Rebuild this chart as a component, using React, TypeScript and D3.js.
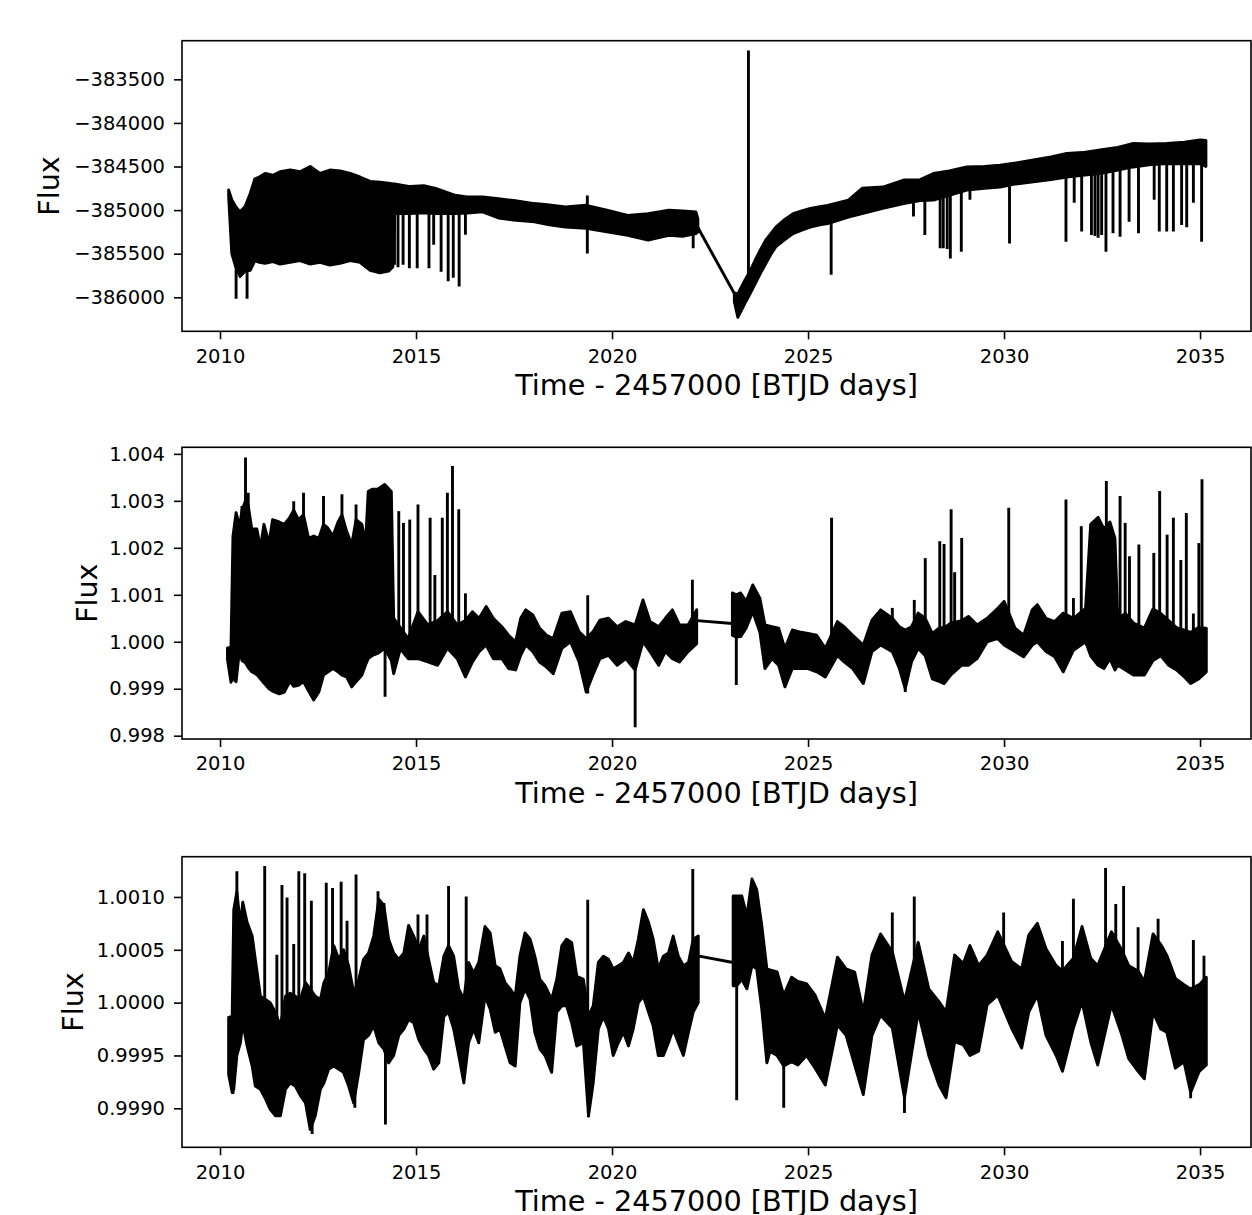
import React, { useEffect, useRef } from "react";
import * as d3 from "d3";

// [time, upper edge, lower edge] of the dense band
type Row = [number, number, number];
// [time, tip value] of an isolated spike
type Spike = [number, number];
// [t0, v0, t1, v1] straight segment across the data gap
type Link = [number, number, number, number];

const yearTicks = [2010, 2015, 2020, 2025, 2030, 2035];
const timeDomain: [number, number] = [2009.03, 2036.3];

// ---------- panel 1 : raw flux ----------
const p1Domain: [number, number] = [-386390, -383057];
const p1Ticks = [-386000, -385500, -385000, -384500, -384000, -383500];

const p1BandA: Row[] = [
  [2010.22, -384770, -384850], [2010.3, -384880, -385500], [2010.4, -384960, -385650],
  [2010.51, -385020, -385760], [2010.64, -384960, -385700], [2010.77, -384810, -385690],
  [2010.89, -384640, -385580], [2011.0, -384620, -385600], [2011.15, -384580, -385610],
  [2011.35, -384600, -385590], [2011.53, -384560, -385620], [2011.79, -384540, -385600],
  [2012.04, -384560, -385580], [2012.3, -384500, -385620], [2012.55, -384580, -385600],
  [2012.8, -384540, -385630], [2013.06, -384550, -385610], [2013.32, -384580, -385580],
  [2013.57, -384620, -385600], [2013.83, -384670, -385690], [2014.08, -384680, -385720],
  [2014.3, -384690, -385700], [2014.41, -384700, -385650], [2014.45, -384700, -385040],
  [2014.85, -384730, -385040], [2015.2, -384720, -385030], [2015.5, -384750, -385040],
  [2016.0, -384830, -385040], [2016.3, -384850, -385035], [2016.7, -384850, -385020],
  [2017.1, -384870, -385090], [2017.49, -384890, -385115], [2018.02, -384925, -385135],
  [2018.4, -384940, -385170], [2018.81, -384965, -385195], [2019.34, -384945, -385210],
  [2019.87, -385000, -385250], [2020.4, -385060, -385290], [2020.92, -385040, -385345],
  [2021.45, -385000, -385290], [2021.8, -385010, -385300], [2022.14, -385020, -385270],
  [2022.19, -385100, -385250],
];
const p1BandB: Row[] = [
  [2023.12, -385950, -386050], [2023.21, -385960, -386230], [2023.3, -385880, -386150],
  [2023.39, -385805, -386070], [2023.52, -385700, -385960], [2023.65, -385575, -385845],
  [2023.78, -385460, -385730], [2023.92, -385345, -385615], [2024.05, -385270, -385510],
  [2024.18, -385195, -385420], [2024.4, -385110, -385340], [2024.62, -385040, -385270],
  [2024.84, -385010, -385230], [2025.06, -384980, -385195], [2025.3, -384960, -385170],
  [2025.5, -384945, -385155], [2026.03, -384885, -385080], [2026.38, -384750, -385040],
  [2026.91, -384735, -384980], [2027.44, -384655, -384925], [2027.86, -384650, -384890],
  [2028.2, -384580, -384885], [2028.6, -384550, -384830], [2029.05, -384505, -384770],
  [2029.5, -384500, -384750], [2029.9, -384485, -384735], [2030.3, -384460, -384700],
  [2030.75, -384425, -384675], [2031.2, -384390, -384650], [2031.6, -384350, -384620],
  [2032.0, -384340, -384600], [2032.45, -384310, -384580], [2032.9, -384280, -384540],
  [2033.3, -384235, -384505], [2033.7, -384240, -384480], [2034.15, -384235, -384465],
  [2034.6, -384220, -384470], [2035.0, -384195, -384465], [2035.15, -384200, -384500],
];
const p1Spikes: Spike[] = [
  [2010.41, -386000], [2010.69, -386000], [2014.45, -385610], [2014.54, -385640],
  [2014.67, -385610], [2014.83, -385650], [2015.03, -385650], [2015.33, -385650],
  [2015.45, -385380], [2015.64, -385690], [2015.82, -385800], [2015.95, -385760],
  [2016.1, -385860], [2016.26, -385265], [2019.37, -385480], [2019.37, -384850],
  [2022.07, -385420], [2023.48, -383185], [2025.59, -385725], [2027.69, -385058],
  [2027.98, -385268], [2028.37, -385420], [2028.45, -385420], [2028.55, -385430],
  [2028.63, -385537], [2028.91, -385460], [2029.13, -384866], [2030.14, -385365],
  [2031.58, -385346], [2031.79, -384900], [2031.98, -385230], [2032.23, -385268],
  [2032.32, -385280], [2032.4, -385300], [2032.49, -385268], [2032.6, -385460],
  [2032.78, -385250], [2032.96, -385288], [2033.19, -385116], [2033.43, -385250],
  [2033.83, -384866], [2033.96, -385230], [2034.15, -385230], [2034.32, -385230],
  [2034.53, -385154], [2034.66, -385180], [2034.83, -384900], [2035.04, -385346],
];
const p1Link: Link = [2022.19, -385200, 2023.12, -385957];

// ---------- panel 2 : normalised flux ----------
const p2Domain: [number, number] = [0.99793, 1.00414];
const p2Ticks = [0.998, 0.999, 1.0, 1.001, 1.002, 1.003, 1.004];

const p2BandA: Row[] = [
  [2010.19, 0.99987, 0.99962], [2010.28, 0.99988, 0.99914], [2010.33, 1.00225, 0.99922],
  [2010.41, 1.00275, 0.99915], [2010.5, 1.00245, 0.99985], [2010.56, 1.0028, 0.9996],
  [2010.65, 1.003, 0.99955], [2010.72, 1.0029, 0.99945], [2010.81, 1.0024, 0.99936],
  [2010.94, 1.0024, 0.9993], [2011.03, 1.002, 0.99921], [2011.12, 1.0025, 0.99912],
  [2011.25, 1.0021, 0.999], [2011.34, 1.0026, 0.99895], [2011.51, 1.00255, 0.99889],
  [2011.64, 1.0025, 0.99893], [2011.78, 1.00265, 0.99915], [2011.88, 1.0028, 0.99905],
  [2012.0, 1.0026, 0.99907], [2012.13, 1.0027, 0.99915], [2012.26, 1.0022, 0.99895],
  [2012.39, 1.00225, 0.99876], [2012.52, 1.0022, 0.99893], [2012.64, 1.0025, 0.99929],
  [2012.74, 1.00243, 0.99935], [2012.88, 1.00225, 0.99943], [2013.01, 1.00255, 0.99936],
  [2013.11, 1.0027, 0.99929], [2013.23, 1.00235, 0.99925], [2013.36, 1.00207, 0.99904],
  [2013.47, 1.0026, 0.99915], [2013.62, 1.0025, 0.99929], [2013.71, 1.00207, 0.9995],
  [2013.78, 1.0032, 0.99964], [2013.89, 1.00325, 0.99971], [2014.02, 1.00325, 0.99975],
  [2014.2, 1.00335, 0.99986], [2014.37, 1.0032, 0.9996], [2014.43, 1.0005, 0.99932],
  [2014.6, 1.0003, 0.99985], [2014.8, 1.00007, 0.99964], [2015.05, 1.00064, 0.99964],
  [2015.3, 1.00036, 0.99957], [2015.55, 1.00045, 0.9995], [2015.8, 1.00064, 0.99986],
  [2016.05, 1.00036, 0.99964], [2016.26, 1.00045, 0.99925], [2016.44, 1.00064, 0.99957],
  [2016.61, 1.0005, 0.99979], [2016.79, 1.00075, 0.99993], [2016.97, 1.0005, 0.99964],
  [2017.19, 1.00032, 0.99964], [2017.36, 1.00014, 0.99943], [2017.54, 1.0, 0.9994],
  [2017.67, 1.0005, 0.99971], [2017.8, 1.00068, 0.99993], [2017.98, 1.00057, 0.99979],
  [2018.15, 1.00029, 0.99957], [2018.33, 1.00014, 0.99946], [2018.5, 1.00007, 0.99932],
  [2018.72, 1.00061, 0.99986], [2018.94, 1.00064, 1.0], [2019.16, 1.00021, 0.99957],
  [2019.34, 1.00007, 0.99893], [2019.51, 1.00021, 0.99929], [2019.69, 1.00046, 0.99964],
  [2019.91, 1.0005, 0.99971], [2020.13, 1.00032, 0.9995], [2020.35, 1.00043, 0.99964],
  [2020.59, 1.00036, 0.9994], [2020.79, 1.00089, 1.0], [2020.97, 1.00043, 0.99979],
  [2021.19, 1.00032, 0.9995], [2021.36, 1.0005, 0.99979], [2021.54, 1.00068, 0.99964],
  [2021.72, 1.00036, 0.99957], [2021.94, 1.00036, 0.99979], [2022.16, 1.00068, 0.99996],
];
const p2BandB: Row[] = [
  [2023.07, 1.00104, 1.00014], [2023.17, 1.001, 1.0001], [2023.28, 1.00104, 1.00011],
  [2023.42, 1.00086, 1.00029], [2023.59, 1.00121, 1.00064], [2023.77, 1.00093, 1.00021],
  [2023.9, 1.00036, 0.99943], [2024.08, 1.00032, 0.99964], [2024.25, 1.00029, 0.9995],
  [2024.41, 0.99986, 0.99904], [2024.6, 1.00025, 0.99943], [2024.78, 1.00021, 0.99943],
  [2025.0, 1.00018, 0.99943], [2025.22, 1.00014, 0.99936], [2025.44, 0.99986, 0.99925],
  [2025.75, 1.00043, 0.99971], [2025.92, 1.00032, 0.99957], [2026.14, 1.00014, 0.99943],
  [2026.41, 0.99993, 0.99911], [2026.63, 1.00046, 0.99979], [2026.85, 1.00068, 0.99993],
  [2027.15, 1.0005, 0.99979], [2027.33, 1.00032, 0.99943], [2027.48, 1.00025, 0.999],
  [2027.64, 1.00032, 0.99957], [2027.81, 1.00061, 0.99986], [2027.99, 1.0005, 0.9997],
  [2028.17, 1.00018, 0.99921], [2028.36, 1.0003, 0.99915], [2028.47, 1.0003, 0.99911],
  [2028.65, 1.0004, 0.9993], [2028.92, 1.00045, 0.9995], [2029.09, 1.00054, 0.9995],
  [2029.31, 1.00036, 0.99964], [2029.57, 1.0005, 1.0], [2029.84, 1.00071, 1.00007],
  [2030.0, 1.00086, 0.99993], [2030.28, 1.00029, 0.99979], [2030.5, 1.00014, 0.99968],
  [2030.72, 1.00068, 0.99993], [2030.85, 1.00079, 1.0], [2031.07, 1.0005, 0.99979],
  [2031.29, 1.00043, 0.99968], [2031.51, 1.00061, 0.99936], [2031.77, 1.0005, 0.99982],
  [2032.08, 1.00071, 1.0], [2032.21, 1.0025, 0.9997], [2032.4, 1.00265, 0.9995],
  [2032.55, 1.0024, 0.99943], [2032.7, 1.00255, 0.99964], [2032.83, 1.0022, 0.9994],
  [2032.9, 1.0005, 0.9995], [2033.1, 1.0006, 0.9994], [2033.3, 1.0004, 0.99929],
  [2033.58, 1.00029, 0.99929], [2033.8, 1.0007, 0.9996], [2034.0, 1.0006, 0.9997],
  [2034.2, 1.00045, 0.9995], [2034.4, 1.0003, 0.9994], [2034.6, 1.00025, 0.99925],
  [2034.76, 1.0002, 0.99911], [2034.95, 1.0003, 0.9992], [2035.16, 1.00029, 0.99936],
];
const p2Spikes: Spike[] = [
  [2010.56, 1.00286], [2010.65, 1.00389], [2010.72, 1.00314], [2011.88, 1.00296],
  [2012.13, 1.00314], [2012.64, 1.00307], [2013.11, 1.00311], [2013.47, 1.00289],
  [2014.21, 0.99886], [2014.56, 1.00275], [2014.68, 1.0025], [2014.84, 1.00257],
  [2015.05, 1.00289], [2015.36, 1.00261], [2015.48, 1.00139], [2015.67, 1.00261],
  [2015.8, 1.00314], [2015.93, 1.00371], [2016.09, 1.00279], [2016.26, 1.001],
  [2019.38, 1.00096], [2019.38, 0.99893], [2020.59, 0.99821], [2022.05, 1.00129],
  [2023.17, 0.99911], [2025.6, 1.00261], [2027.15, 1.00069], [2027.48, 0.99896],
  [2027.71, 1.00086], [2027.99, 1.00175], [2028.36, 1.00211], [2028.47, 1.00205],
  [2028.65, 1.00279], [2028.74, 1.00145], [2028.92, 1.00218], [2030.12, 1.00282],
  [2031.58, 1.003], [2031.77, 1.0009], [2031.97, 1.00243], [2032.61, 1.00339],
  [2032.96, 1.00307], [2033.09, 1.0025], [2033.2, 1.00179], [2033.44, 1.00204],
  [2033.82, 1.00186], [2033.97, 1.00318], [2034.16, 1.00225], [2034.32, 1.00261],
  [2034.51, 1.00171], [2034.65, 1.00271], [2034.83, 1.00057], [2034.97, 1.00207],
  [2035.05, 1.00343],
];
const p2Link: Link = [2022.17, 1.00045, 2023.07, 1.00039];

// ---------- panel 3 : flattened flux ----------
const p3Domain: [number, number] = [0.998631, 1.001381];
const p3Ticks = [0.999, 0.9995, 1.0, 1.0005, 1.001];

const p3BandA: Row[] = [
  [2010.22, 0.99986, 0.99932], [2010.31, 0.99987, 0.99915], [2010.35, 1.00088, 0.99918],
  [2010.43, 1.00105, 0.9995], [2010.52, 1.00073, 0.99962], [2010.58, 1.00095, 0.99981],
  [2010.69, 1.00076, 0.99959], [2010.82, 1.00063, 0.9994], [2010.9, 1.00041, 0.99921],
  [2011.03, 1.00006, 0.99918], [2011.16, 1.00003, 0.99909], [2011.28, 1.0, 0.99899],
  [2011.41, 0.99991, 0.99893], [2011.54, 0.99978, 0.99893], [2011.67, 1.00006, 0.99918],
  [2011.79, 1.00009, 0.99924], [2011.92, 1.00006, 0.99921], [2012.05, 1.00003, 0.99912],
  [2012.18, 1.00019, 0.99905], [2012.3, 1.00013, 0.9988], [2012.43, 1.00006, 0.99893],
  [2012.56, 1.00003, 0.99918], [2012.65, 1.00019, 0.99924], [2012.77, 1.00028, 0.99937],
  [2012.9, 1.00054, 0.9994], [2013.03, 1.00041, 0.99937], [2013.15, 1.0005, 0.99934],
  [2013.28, 1.00035, 0.99921], [2013.41, 1.00009, 0.99905], [2013.54, 1.00022, 0.99934],
  [2013.66, 1.00041, 0.99965], [2013.79, 1.00047, 0.99969], [2013.92, 1.00063, 0.99978],
  [2014.05, 1.00098, 0.99962], [2014.18, 1.00092, 0.99956], [2014.3, 1.0006, 0.99943],
  [2014.43, 1.00047, 0.9995], [2014.56, 1.00041, 0.99969], [2014.69, 1.00047, 0.99975],
  [2014.81, 1.00073, 0.99984], [2014.94, 1.00063, 0.99981], [2015.07, 1.0005, 0.99965],
  [2015.2, 1.00063, 0.99956], [2015.32, 1.00041, 0.9995], [2015.45, 1.00019, 0.99937],
  [2015.58, 1.00016, 0.99943], [2015.71, 1.00044, 0.99987], [2015.83, 1.00054, 0.99991],
  [2015.96, 1.00044, 0.99975], [2016.09, 1.00013, 0.9995], [2016.22, 1.00003, 0.99924],
  [2016.34, 1.00038, 0.99962], [2016.47, 1.00028, 0.99975], [2016.6, 1.00038, 0.99962],
  [2016.76, 1.00072, 1.00006], [2016.89, 1.00066, 0.99994], [2017.02, 1.00035, 0.99972],
  [2017.14, 1.00032, 0.99975], [2017.27, 1.00019, 0.99959], [2017.4, 1.00013, 0.99943],
  [2017.53, 1.00006, 0.9994], [2017.65, 1.00044, 1.0], [2017.78, 1.00066, 1.00013],
  [2017.91, 1.0006, 1.00003], [2018.03, 1.00044, 0.99972], [2018.16, 1.00022, 0.99956],
  [2018.29, 1.00016, 0.9995], [2018.46, 1.00003, 0.99934], [2018.59, 1.00022, 0.99991],
  [2018.72, 1.00054, 0.99997], [2018.84, 1.0006, 0.99997], [2018.97, 1.00057, 0.99981],
  [2019.1, 1.00025, 0.99959], [2019.27, 1.00022, 0.99962], [2019.4, 0.99987, 0.99893],
  [2019.52, 0.99997, 0.99924], [2019.65, 1.00038, 0.99975], [2019.78, 1.00044, 0.99987],
  [2019.91, 1.00041, 0.99975], [2020.03, 1.00032, 0.9995], [2020.16, 1.00035, 0.99962],
  [2020.29, 1.00038, 0.99972], [2020.42, 1.00047, 0.99959], [2020.54, 1.00038, 0.99975],
  [2020.67, 1.0006, 1.0], [2020.8, 1.00088, 1.00006], [2020.93, 1.00076, 0.99991],
  [2021.05, 1.0006, 0.99978], [2021.18, 1.00032, 0.9995], [2021.31, 1.00044, 0.9995],
  [2021.44, 1.00047, 0.99962], [2021.56, 1.00063, 0.99975], [2021.69, 1.00044, 0.99962],
  [2021.82, 1.00035, 0.9995], [2021.95, 1.00038, 0.99972], [2022.07, 1.0006, 0.99991],
  [2022.2, 1.00063, 1.0],
];
const p3BandB: Row[] = [
  [2023.09, 1.00101, 1.00016], [2023.18, 1.00101, 1.00016], [2023.31, 1.00101, 1.00022],
  [2023.44, 1.00082, 1.00013], [2023.57, 1.00117, 1.00035], [2023.69, 1.00107, 1.00032],
  [2023.82, 1.00073, 0.99994], [2023.95, 1.00032, 0.99943], [2024.03, 1.00031, 0.99954],
  [2024.21, 1.00029, 0.9995], [2024.38, 1.00007, 0.9994], [2024.58, 1.00024, 0.99944],
  [2024.74, 1.0002, 0.99941], [2024.96, 1.00018, 0.9995], [2025.18, 1.00007, 0.99938],
  [2025.44, 0.99985, 0.99922], [2025.75, 1.00043, 0.99979], [2025.97, 1.00032, 0.99969],
  [2026.19, 1.00029, 0.99941], [2026.41, 0.99991, 0.99913], [2026.63, 1.00045, 0.99969],
  [2026.85, 1.00065, 0.99988], [2027.15, 1.00048, 0.99976], [2027.46, 1.00001, 0.9991],
  [2027.81, 1.00057, 0.99991], [2028.08, 1.00013, 0.9995], [2028.34, 1.00001, 0.99922],
  [2028.52, 0.99991, 0.9991], [2028.74, 1.00045, 0.99963], [2028.96, 1.00037, 0.9996],
  [2029.13, 1.00054, 0.9995], [2029.35, 1.00035, 0.99954], [2029.57, 1.00045, 0.99998],
  [2029.84, 1.00067, 1.00007], [2030.19, 1.00039, 0.99976], [2030.45, 1.00032, 0.99957],
  [2030.63, 1.00064, 0.99991], [2030.85, 1.00075, 1.00007], [2031.07, 1.00051, 0.99969],
  [2031.33, 1.00035, 0.9995], [2031.49, 1.0003, 0.99935], [2031.77, 1.00042, 0.99976],
  [2031.99, 1.00072, 1.00001], [2032.21, 1.00042, 0.99963], [2032.39, 1.00035, 0.99941],
  [2032.74, 1.00067, 0.99998], [2033.0, 1.0005, 0.9997], [2033.18, 1.00035, 0.99947],
  [2033.42, 1.0003, 0.99935], [2033.58, 1.0002, 0.99928], [2033.8, 1.00065, 0.99991],
  [2034.0, 1.00055, 0.99975], [2034.15, 1.00045, 0.99972], [2034.37, 1.00023, 0.99938],
  [2034.59, 1.00017, 0.99944], [2034.76, 1.00013, 0.99915], [2034.98, 1.00017, 0.99935],
  [2035.16, 1.00024, 0.99941],
];
const p3Spikes: Spike[] = [
  [2010.33, 0.99915], [2010.43, 1.00123], [2011.14, 1.00128], [2011.45, 1.00044],
  [2011.58, 1.0011], [2011.71, 1.00098], [2011.88, 1.00054], [2012.01, 1.00123],
  [2012.16, 1.00121], [2012.33, 1.00095], [2012.35, 0.99877], [2012.71, 1.00112],
  [2012.87, 1.00107], [2013.09, 1.00113], [2013.24, 1.00076], [2013.44, 0.99902],
  [2013.47, 1.0012], [2014.03, 1.00104], [2014.18, 1.00093], [2014.22, 0.99886],
  [2015.05, 1.00082], [2015.28, 1.00082], [2015.83, 1.00109], [2016.28, 1.00099],
  [2019.38, 1.00096], [2019.4, 0.99893], [2022.06, 1.00125], [2023.18, 0.99909],
  [2024.38, 0.99902], [2027.15, 1.00084], [2027.46, 0.99897], [2027.71, 1.00099],
  [2029.99, 1.00084], [2031.49, 1.00057], [2031.77, 1.00097], [2032.59, 1.00126],
  [2032.85, 1.00092], [2033.05, 1.00109], [2033.42, 1.0007], [2033.93, 1.00078],
  [2034.76, 0.99911], [2034.83, 1.00058], [2035.1, 1.00043],
];
const p3Link: Link = [2022.22, 1.00044, 2023.09, 1.00038];

const panels = [
  { bands: [p1BandA, p1BandB], spikes: p1Spikes, link: p1Link, domain: p1Domain, ticks: p1Ticks, digits: 0 },
  { bands: [p2BandA, p2BandB], spikes: p2Spikes, link: p2Link, domain: p2Domain, ticks: p2Ticks, digits: 3 },
  { bands: [p3BandA, p3BandB], spikes: p3Spikes, link: p3Link, domain: p3Domain, ticks: p3Ticks, digits: 4 },
];

// layout of the three axes boxes (pixels)
const width = 1252;
const height = 1215;
const axLeft = 182;
const axRight = 1251;
const frames = [
  { top: 40.7, bottom: 331.3, ylabelX: 59 },
  { top: 447.3, bottom: 739, ylabelX: 96.5 },
  { top: 856.7, bottom: 1147.3, ylabelX: 83 },
];

const font = "DejaVu Sans, Verdana, sans-serif";
const lw = 2.9;

// middle of the band at time t, used as the foot of a spike
const bandMid = (bands: Row[][], t: number) => {
  const all = bands.flat();
  const i = d3.bisector<Row, number>((d) => d[0]).left(all, t);
  const a = all[Math.max(0, i - 1)];
  const b = all[Math.min(all.length - 1, i)];
  const f = b[0] === a[0] ? 0 : (t - a[0]) / (b[0] - a[0]);
  return ((a[1] + a[2]) / 2) * (1 - f) + ((b[1] + b[2]) / 2) * f;
};

export default function App() {
  const svgRef = useRef<SVGSVGElement>(null);

  useEffect(() => {
    if (!svgRef.current) return;
    const svg = d3.select(svgRef.current);
    svg.selectAll("*").remove();

    const x = d3.scaleLinear().domain(timeDomain).range([axLeft, axRight]);

    panels.forEach((p, i) => {
      const f = frames[i];
      const y = d3.scaleLinear().domain(p.domain).range([f.bottom, f.top]);

      const clipId = `plot-clip-${i}`;
      svg
        .append("clipPath")
        .attr("id", clipId)
        .append("rect")
        .attr("x", axLeft)
        .attr("y", f.top)
        .attr("width", axRight - axLeft)
        .attr("height", f.bottom - f.top);

      const plot = svg.append("g").attr("clip-path", `url(#${clipId})`);

      const area = d3
        .area<Row>()
        .x((d) => x(d[0]))
        .y0((d) => y(d[2]))
        .y1((d) => y(d[1]));

      p.bands.forEach((band) => {
        plot
          .append("path")
          .attr("d", area(band))
          .attr("fill", "#000")
          .attr("stroke", "#000")
          .attr("stroke-width", lw)
          .attr("stroke-linejoin", "round");
      });

      const [t0, v0, t1, v1] = p.link;
      plot
        .append("line")
        .attr("x1", x(t0))
        .attr("y1", y(v0))
        .attr("x2", x(t1))
        .attr("y2", y(v1))
        .attr("stroke", "#000")
        .attr("stroke-width", lw);

      plot
        .selectAll("line.spike")
        .data(p.spikes)
        .enter()
        .append("line")
        .attr("class", "spike")
        .attr("x1", (d) => x(d[0]))
        .attr("x2", (d) => x(d[0]))
        .attr("y1", (d) => y(bandMid(p.bands, d[0])))
        .attr("y2", (d) => y(d[1]))
        .attr("stroke", "#000")
        .attr("stroke-width", lw)
        .attr("stroke-linecap", "square");

      // axes
      const xAxis = svg
        .append("g")
        .attr("transform", `translate(0,${f.bottom})`)
        .call(
          d3
            .axisBottom(x)
            .tickValues(yearTicks)
            .tickSize(8)
            .tickPadding(9.5)
            .tickSizeOuter(0)
            .tickFormat(d3.format("d"))
        );
      const fmt = d3.format(`.${p.digits}f`);
      const yAxis = svg
        .append("g")
        .attr("transform", `translate(${axLeft},0)`)
        .call(
          d3
            .axisLeft(y)
            .tickValues(p.ticks)
            .tickSize(8)
            .tickPadding(9)
            .tickSizeOuter(0)
            .tickFormat((d) => fmt(d as number))
        );
      [xAxis, yAxis].forEach((ax) => {
        ax.select(".domain").remove();
        ax.attr("font-family", font).attr("font-size", 19.5);
        ax.selectAll("line").attr("stroke", "#000").attr("stroke-width", 1.6);
        ax.selectAll("text").attr("fill", "#000");
      });

      svg
        .append("rect")
        .attr("x", axLeft)
        .attr("y", f.top)
        .attr("width", axRight - axLeft)
        .attr("height", f.bottom - f.top)
        .attr("fill", "none")
        .attr("stroke", "#000")
        .attr("stroke-width", 1.6);

      svg
        .append("text")
        .attr("x", (axLeft + axRight) / 2)
        .attr("y", f.bottom + 63.7)
        .attr("text-anchor", "middle")
        .attr("fill", "#000")
        .style("font-family", font)
        .style("font-size", "28.7px")
        .text("Time - 2457000 [BTJD days]");

      svg
        .append("text")
        .attr("transform", `translate(${f.ylabelX},${(f.top + f.bottom) / 2}) rotate(-90)`)
        .attr("text-anchor", "middle")
        .attr("fill", "#000")
        .style("font-family", font)
        .style("font-size", "28.5px")
        .text("Flux");
    });
  }, []);

  return (
    <svg
      ref={svgRef}
      width={width}
      height={height}
      viewBox={`0 0 ${width} ${height}`}
      style={{ position: "absolute", left: 0, top: 0, background: "#fff", display: "block" }}
    />
  );
}
